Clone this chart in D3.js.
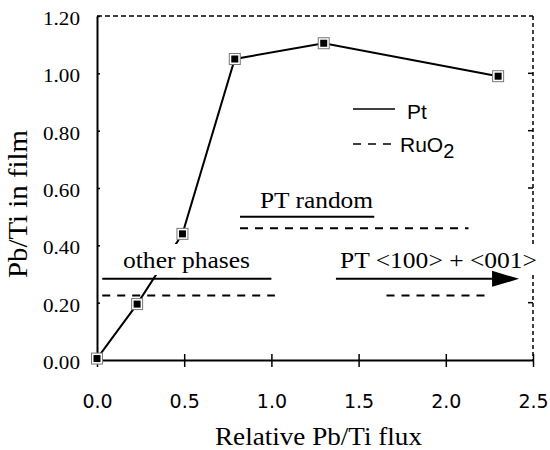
<!DOCTYPE html>
<html><head><meta charset="utf-8">
<script src="https://cdn.jsdelivr.net/npm/d3@7"></script>
<style>body{margin:0;background:#fff}</style>
</head><body>
<svg id="c" width="550" height="450"></svg>
<script>
const fluxValues = [0.0, 0.23, 0.49, 0.79, 1.30, 2.30];
const ptValues = [0.005, 0.195, 0.44, 1.05, 1.105, 0.99];
const xTicks = [0, 0.5, 1.0, 1.5, 2.0, 2.5];
const yTicks = [0, 0.2, 0.4, 0.6, 0.8, 1.0, 1.2];
// annotation regions: [x0, x1, y]
const otherPhasesPt = [0.03, 1.0, 0.283];
const otherPhasesRu = [0.03, 1.02, 0.225];
const randomPt = [0.82, 1.59, 0.50];
const randomRu = [0.82, 2.13, 0.46];
const orientedPt = [1.37, 2.42, 0.283];
const orientedRu = [1.66, 2.25, 0.225];

const svg = d3.select("#c");
const L = 97, R = 533, T = 16, B = 360;
const x = d3.scaleLinear().domain([0, 2.5]).range([L, R]);
const y = d3.scaleLinear().domain([0, 1.2]).range([B, T]);
const serif = "'Liberation Serif','Times New Roman',serif";
const sans = "'DejaVu Sans',Verdana,sans-serif";
const helv = "'Liberation Sans',Arial,sans-serif";

// frame dashed top/right
svg.append("line").attr("x1", L).attr("x2", R).attr("y1", T).attr("y2", T)
  .attr("stroke", "#000").attr("stroke-width", 1.5).attr("stroke-dasharray", "5,3");
svg.append("line").attr("x1", R).attr("x2", R).attr("y1", T).attr("y2", B)
  .attr("stroke", "#000").attr("stroke-width", 1.5).attr("stroke-dasharray", "4,3");
svg.append("g").selectAll("line").data(yTicks.slice(1, -1)).join("line")
  .attr("x1", R - 5).attr("x2", R).attr("y1", d => y(d)).attr("y2", d => y(d))
  .attr("stroke", "#000").attr("stroke-width", 1.5);

// axes
const xAxis = svg.append("g").attr("transform", `translate(0,${B})`)
  .call(d3.axisBottom(x).tickValues(xTicks).tickFormat(d3.format(".1f")).tickSizeInner(7).tickSizeOuter(0).tickPadding(28));
xAxis.select(".domain").attr("stroke-width", 2);
xAxis.selectAll(".tick line").attr("y1", -6).attr("stroke-width", 1.5);
xAxis.selectAll("text").attr("fill", "#000")
  .style("font-family", sans).style("font-size", "19px");

const yAxis = svg.append("g").attr("transform", `translate(${L},0)`)
  .call(d3.axisLeft(y).tickValues(yTicks).tickFormat(d3.format(".2f")).tickSizeInner(6).tickSizeOuter(0).tickPadding(11));
yAxis.select(".domain").attr("stroke-width", 2);
yAxis.selectAll(".tick line").attr("x2", 3).attr("stroke-width", 1.5);
yAxis.selectAll("text").attr("font-family", serif).attr("font-size", 19).attr("fill", "#000")
  .attr("dy", "0.45em").attr("textLength", 37).attr("lengthAdjust", "spacingAndGlyphs");

// axis titles
svg.append("text").attr("x", 318.5).attr("y", 445).attr("text-anchor", "middle")
  .attr("font-family", serif).attr("font-size", 26)
  .attr("textLength", 207).attr("lengthAdjust", "spacingAndGlyphs").text("Relative Pb/Ti flux");
svg.append("text").attr("transform", "translate(27,204) rotate(-90)").attr("text-anchor", "middle")
  .attr("font-family", serif).attr("font-size", 27)
  .attr("textLength", 148).attr("lengthAdjust", "spacingAndGlyphs").text("Pb/Ti in film");

// data line
const pts = fluxValues.map((v, i) => [v, ptValues[i]]);
svg.append("path").datum(pts)
  .attr("d", d3.line().x(d => x(d[0])).y(d => y(d[1])))
  .attr("fill", "none").attr("stroke", "#000").attr("stroke-width", 2);

// annotation text with white background
function label(txt, sx, by, len) {
  const t = svg.append("text").attr("x", sx).attr("y", by)
    .attr("font-family", serif).attr("font-size", 24)
    .attr("textLength", len).attr("lengthAdjust", "spacingAndGlyphs").text(txt);
  const bb = t.node().getBBox();
  svg.insert("rect", () => t.node()).attr("x", bb.x - 3).attr("y", bb.y - 3)
    .attr("width", bb.width + 6).attr("height", bb.height + 5).attr("fill", "#fff");
}
label("other phases", 123, 268, 127);
label("PT random", 260, 208, 113);
label("PT <100> + <001>", 340, 268, 197);

function hline(a, dashed) {
  svg.append("line").attr("x1", x(a[0])).attr("x2", x(a[1])).attr("y1", y(a[2])).attr("y2", y(a[2]))
    .attr("stroke", "#000").attr("stroke-width", 2).attr("stroke-dasharray", dashed ? "8,7" : null);
}
hline(otherPhasesPt, false); hline(otherPhasesRu, true);
hline(randomPt, false); hline(randomRu, true);
// arrow
const ax1 = x(orientedPt[1]), ay = y(orientedPt[2]);
svg.append("line").attr("x1", x(orientedPt[0])).attr("x2", ax1 - 20).attr("y1", ay).attr("y2", ay)
  .attr("stroke", "#000").attr("stroke-width", 2);
svg.append("path").attr("d", `M${ax1},${ay}L${ax1 - 27},${ay - 8}L${ax1 - 27},${ay + 8}Z`).attr("fill", "#000");
hline(orientedRu, true);

// markers
const mk = svg.append("g").selectAll("g").data(pts).join("g")
  .attr("transform", d => `translate(${x(d[0])},${y(d[1])})`);
mk.append("rect").attr("x", -5.5).attr("y", -5.5).attr("width", 11).attr("height", 11)
  .attr("fill", "#fff").attr("stroke", "#777").attr("stroke-width", 1);
mk.append("rect").attr("x", -3.5).attr("y", -3.5).attr("width", 7).attr("height", 7).attr("fill", "#000");

// legend
svg.append("line").attr("x1", 353).attr("x2", 395).attr("y1", 109).attr("y2", 109)
  .attr("stroke", "#000").attr("stroke-width", 1.5);
svg.append("line").attr("x1", 353).attr("x2", 395).attr("y1", 144).attr("y2", 144)
  .attr("stroke", "#000").attr("stroke-width", 1.5).attr("stroke-dasharray", "8,7");
svg.append("text").attr("x", 407).attr("y", 119).attr("font-family", helv).attr("font-size", 21).text("Pt");
const ru = svg.append("text").attr("x", 400).attr("y", 152).attr("font-family", helv).attr("font-size", 21);
ru.append("tspan").text("RuO");
ru.append("tspan").attr("dy", 6).attr("font-size", 20).text("2");
</script>
</body></html>
